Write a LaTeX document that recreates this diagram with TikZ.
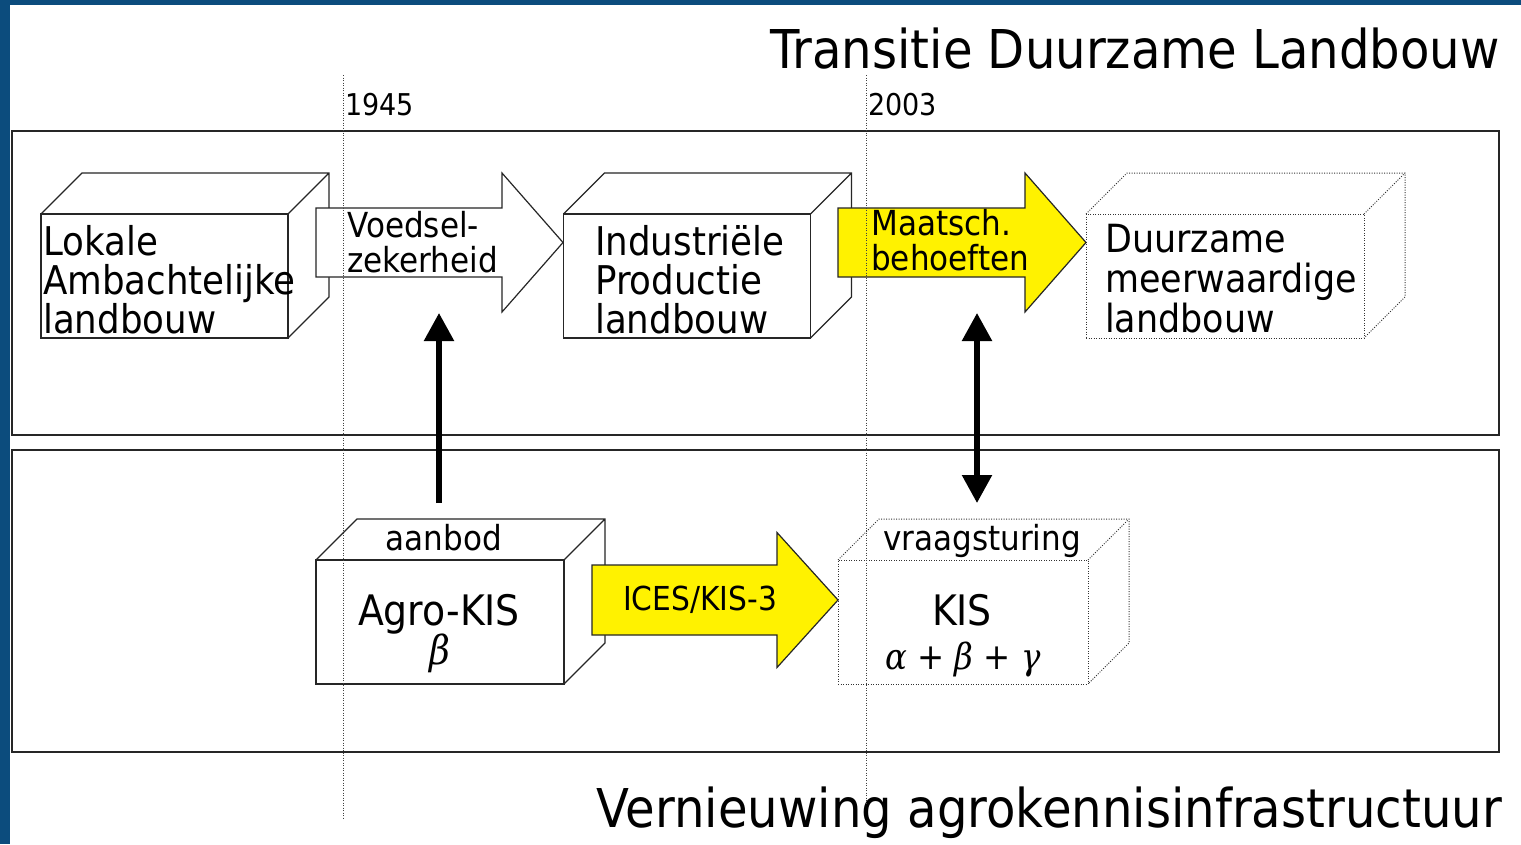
\documentclass[tikz,border=0pt]{standalone}
\usepackage{fontspec}
\setmainfont{DejaVu Sans}[FakeStretch=0.9]
\newfontfamily\greekfont{DejaVu Serif}[FakeStretch=0.9]
\usetikzlibrary{calc}
\usetikzlibrary{positioning}
\usetikzlibrary{arrows.meta}

\definecolor{slideblue}{RGB}{12,76,125}

\tikzset{
  frame/.style={draw=black!85, line width=1.5pt},
  facebox/.style={draw=black!85, line width=1.2pt, fill=white, minimum width=247pt, minimum height=124pt, inner sep=0pt, outer sep=0pt},
  dotbox/.style={draw=black!80, line width=1pt, dash pattern=on 1pt off 1.5pt},
  boxedge/.style={draw=black!85, line width=1.2pt},
  dotedge/.style={draw=black!80, line width=1pt, dash pattern=on 1pt off 1.5pt},
  timeline/.style={draw=black!75, line width=0.9pt, dash pattern=on 1pt off 1.5pt},
  blockwhite/.style={draw=black!85, line width=1.2pt, fill=white},
  blockyellow/.style={draw=black!85, line width=1.2pt, fill=yellow},
  title/.style={anchor=base east, inner sep=0pt, font=\fontsize{53.5}{60}\selectfont},
  yeartext/.style={anchor=base west, inner sep=0pt, font=\fontsize{30}{34}\selectfont},
  boxtext/.style={anchor=north west, align=left, inner sep=0pt, font=\fontsize{39.6}{39}\selectfont},
  arrowtext/.style={anchor=north west, align=left, inner sep=0pt, font=\fontsize{34.5}{35}\selectfont},
  toptext/.style={anchor=base, inner sep=0pt, font=\fontsize{34.5}{38}\selectfont},
  bigtext/.style={anchor=base, inner sep=0pt, font=\fontsize{42}{44}\selectfont},
  greektext/.style={anchor=base, inner sep=0pt, font=\fontsize{36}{40}\selectfont},
  pijl/.style={line width=5.5pt, -{Triangle[length=28pt,width=29pt]}},
  dubbelpijl/.style={line width=5.5pt, {Triangle[length=28pt,width=29pt]}-{Triangle[length=28pt,width=29pt]}},
}

% top and side of a box behind its front face
\newcommand{\kubusrand}[2]{%
  \draw[#2] (#1.north west) -- ++(41,-41) -- ($(#1.north east)+(41,-41)$)
    -- ($(#1.south east)+(41,-41)$) -- (#1.south east)
    (#1.north east) -- ++(41,-41);
}
% block arrow: style, tail x, head x, tip x, mid y, half shaft, half head
\newcommand{\blokpijl}[7]{%
  \draw[#1] (#2,#5-#6) -- (#3,#5-#6) -- (#3,#5-#7) -- (#4,#5)
    -- (#3,#5+#7) -- (#3,#5+#6) -- (#2,#5+#6) -- cycle;
}
\newcommand{\grk}[1]{{\greekfont\itshape #1}}

\begin{document}
\begin{tikzpicture}[x=1pt,y=-1pt]
  \fill[slideblue] (0,0) rectangle (1521,844);
  \fill[white] (10,5) rectangle (1521,844);

  % titels
  \node[title] (transitie) at (1500,68) {Transitie Duurzame Landbouw};
  \node[title] (vernieuwing) at (1502,827) {Vernieuwing agrokennisinfrastructuur};

  % kaders
  \draw[frame] (12,131) rectangle (1499,435);
  \draw[frame] (12,450) rectangle (1499,752);

  % landbouw
  \node[facebox] (lokale) at (164.5,276) {};
  \node[facebox] (industrie) at (687,276) {};
  \node[facebox, dotbox, minimum width=278pt] (duurzaam) at (1225,276) {};
  \kubusrand{lokale}{boxedge}
  \kubusrand{industrie}{boxedge}
  \kubusrand{duurzaam}{dotedge}
  \blokpijl{blockwhite}{316}{502}{563}{242.5}{34.5}{69.5}
  \blokpijl{blockyellow}{838}{1025}{1086}{242.5}{34.5}{69.5}

  \node[boxtext] (lokaletxt) at (43,225) {Lokale\\Ambachtelijke\\landbouw};
  \node[boxtext] (industrietxt) at (595,225) {Industriële\\Productie\\landbouw};
  \node[boxtext, font=\fontsize{38.8}{40}\selectfont] (duurzaamtxt) at (1105,224) {Duurzame\\meerwaardige\\landbouw};
  \node[arrowtext] (voedsel) at (347,211) {Voedsel-\\zekerheid};
  \node[arrowtext] (maatsch) at (871,209) {Maatsch.\\behoeften};

  % kennisinfrastructuur
  \node[facebox, minimum width=248pt] (agrokis) at (440,622) {};
  \node[facebox, dotbox, minimum width=250pt] (kis) at (963,622) {};
  \kubusrand{agrokis}{boxedge}
  \kubusrand{kis}{dotedge}
  \blokpijl{blockyellow}{592}{777}{838}{600}{35}{67.5}

  \node[toptext] (aanbod) at (444,550) {aanbod};
  \node[bigtext] (agrotxt) at (439,625) {Agro-KIS};
  \node[greektext, font=\fontsize{40}{40}\selectfont] (beta) at (440,664) {\grk{β}};
  \node[toptext] (vraag) at (982,550) {vraagsturing};
  \node[bigtext] (kistxt) at (962,625) {KIS};
  \node[greektext] (abg) at (963,669) {\grk{α} + \grk{β} + \grk{γ}};
  \node[toptext, font=\fontsize{33}{36}\selectfont] (ices) at (700,610) {ICES/KIS-3};

  % verticale pijlen
  \coordinate (voedselvoet) at (439,313);
  \coordinate (agrotop) at (439,503);
  \coordinate (maatschvoet) at (977,313);
  \coordinate (kistop) at (977,503);
  \draw[pijl] (agrotop) -- (voedselvoet);
  \draw[dubbelpijl] (kistop) -- (maatschvoet);

  % tijdlijnen
  \draw[timeline] (343,75) -- (343,818);
  \draw[timeline] (866,75) -- (866,805);
  \node[yeartext] (jaar1945) at (345,115) {1945};
  \node[yeartext] (jaar2003) at (868,115) {2003};
\end{tikzpicture}
\end{document}
